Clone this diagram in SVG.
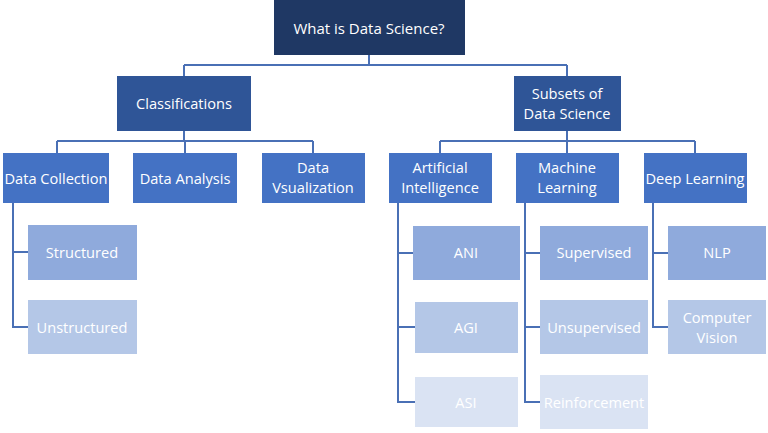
<svg xmlns="http://www.w3.org/2000/svg" width="768" height="433" viewBox="0 0 768 433">
<style>
text{font-family:"Open Sans","Liberation Sans",sans-serif;font-size:14.6px;fill:#fff;text-anchor:middle;dominant-baseline:central}
.l1{fill:#1F3864}.l2{fill:#2F5597}.l3{fill:#4472C4}.a{fill:#8FAADC}.b{fill:#B4C7E7}.c{fill:#DAE3F3}
.conn path{fill:none;stroke:#4A70B5;stroke-width:2}
</style>
<rect width="768" height="433" fill="#fff"/>
<g class="conn">
<path d="M369 55V65M184 65H567M184 65V76M567 65V76"/>
<path d="M184 131V141M57 141H313M57 141V153M185 141V153M313 141V153"/>
<path d="M567 131V141M440 141H695M440 141V153M567 141V153M695 141V153"/>
<path d="M13 203V327H28M13 252H28"/>
<path d="M398 203V402H415M398 253H413M398 327H415"/>
<path d="M525 203V402H540M525 253H540M525 327H540"/>
<path d="M653 203V327H668M653 253H668"/>
</g>
<g id="root"><rect class="l1" x="274" y="0" width="191" height="55"/><text x="369" y="28" style="font-size:15px">What is Data Science?</text></g>
<g id="classifications"><rect class="l2" x="117" y="76" width="134" height="55"/><text x="184" y="103">Classifications</text></g>
<g id="subsets"><rect class="l2" x="514" y="76" width="107" height="55"/><text x="567" y="93">Subsets of</text><text x="567" y="113">Data Science</text></g>
<g id="data-collection"><rect class="l3" x="3" y="153" width="106" height="50"/><text x="56" y="178">Data Collection</text></g>
<g id="data-analysis"><rect class="l3" x="133" y="153" width="104" height="50"/><text x="185" y="178">Data Analysis</text></g>
<g id="data-visualization"><rect class="l3" x="262" y="153" width="103" height="50"/><text x="313" y="167">Data</text><text x="313" y="187">Vsualization</text></g>
<g id="ai"><rect class="l3" x="389" y="153" width="103" height="50"/><text x="440" y="167">Artificial</text><text x="440" y="187">Intelligence</text></g>
<g id="ml"><rect class="l3" x="516" y="153" width="103" height="50"/><text x="567" y="167">Machine</text><text x="567" y="187">Learning</text></g>
<g id="dl"><rect class="l3" x="644" y="153" width="103" height="50"/><text x="695" y="178">Deep Learning</text></g>
<g id="structured"><rect class="a" x="28" y="225" width="109" height="55"/><text x="82" y="252">Structured</text></g>
<g id="unstructured"><rect class="b" x="28" y="300" width="109" height="54"/><text x="82" y="327">Unstructured</text></g>
<g id="ani"><rect class="a" x="413" y="226" width="107" height="54"/><text x="466" y="252">ANI</text></g>
<g id="agi"><rect class="b" x="415" y="302" width="103" height="51"/><text x="466" y="327">AGI</text></g>
<g id="asi"><rect class="c" x="415" y="377" width="103" height="50"/><text x="466" y="402">ASI</text></g>
<g id="supervised"><rect class="a" x="540" y="226" width="108" height="54"/><text x="594" y="252">Supervised</text></g>
<g id="unsupervised"><rect class="b" x="540" y="300" width="108" height="54"/><text x="594" y="327">Unsupervised</text></g>
<g id="reinforcement"><rect class="c" x="540" y="375" width="108" height="54"/><text x="594" y="402">Reinforcement</text></g>
<g id="nlp"><rect class="a" x="668" y="226" width="98" height="54"/><text x="717" y="252">NLP</text></g>
<g id="computer-vision"><rect class="b" x="668" y="300" width="98" height="54"/><text x="717" y="317">Computer</text><text x="717" y="337">Vision</text></g>
</svg>
